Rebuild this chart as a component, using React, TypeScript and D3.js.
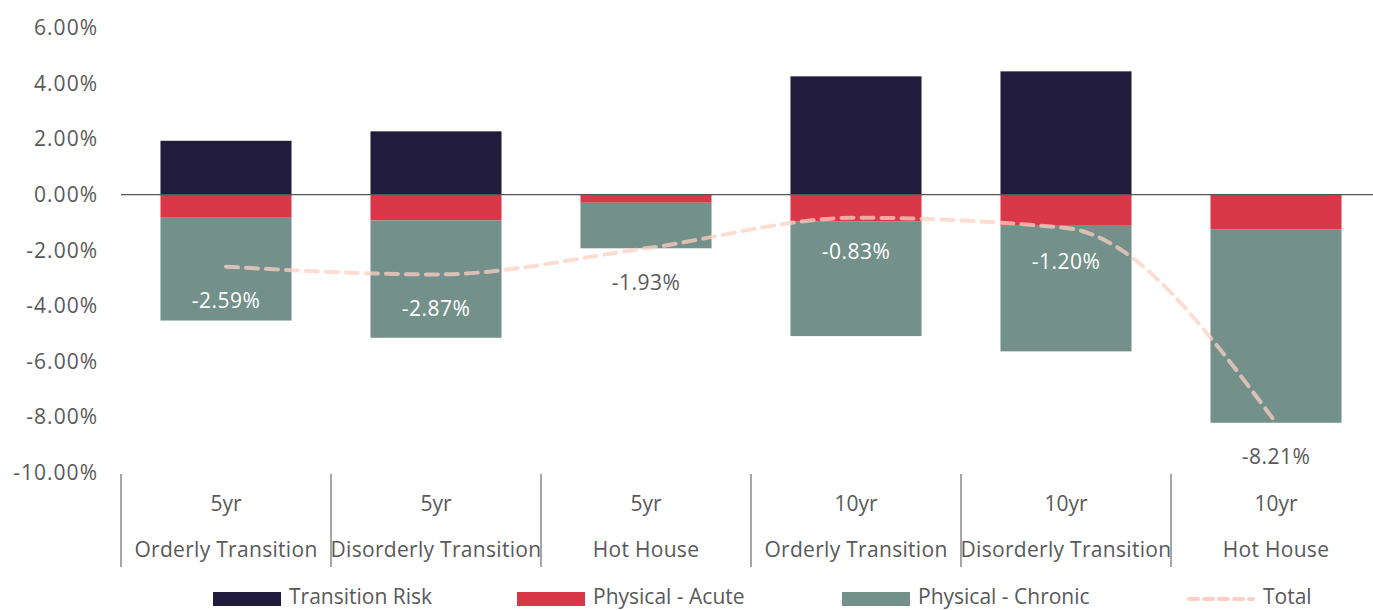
import React from "react";
import * as d3 from "d3";

const horizons = ["5yr", "5yr", "5yr", "10yr", "10yr", "10yr"];
const scenarios = ["Orderly Transition", "Disorderly Transition", "Hot House", "Orderly Transition", "Disorderly Transition", "Hot House"];
const transitionRisk = [1.94, 2.28, 0, 4.26, 4.44, 0];
const physicalAcute = [-0.83, -0.93, -0.29, -0.97, -1.12, -1.24];
const physicalChronic = [-3.70, -4.22, -1.64, -4.12, -4.52, -6.97];
const totals = [-2.59, -2.87, -1.93, -0.83, -1.20, -8.21];
const yTicks = [6, 4, 2, 0, -2, -4, -6, -8, -10];

const seriesNames = ["Transition Risk", "Physical - Acute", "Physical - Chronic", "Total"];
const colors = ["#221c3c", "#d83847", "#74908a", "#fcd0c2"];

const W = 1373, H = 610;
const FONT = "'Open Sans', sans-serif";
const TXT = "#595959";
const FS = 21;

export default function App() {
  const cats = scenarios.map((_, i) => String(i));
  const x = d3.scaleBand<string>().domain(cats).range([121, 1381]).paddingInner(0.376).paddingOuter(0.188);
  const step = x.step();
  const y = d3.scaleLinear().domain([-10, 6]).range([472.5, 28]);
  const cx = (i: number) => (x(String(i)) as number) + x.bandwidth() / 2;

  const line = d3.line<number>().x((_, i) => cx(i)).y(d => y(d)).curve(d3.curveMonotoneX);

  const bars: JSX.Element[] = [];
  cats.forEach((c, i) => {
    const bx = x(c) as number;
    const bw = x.bandwidth();
    const t = transitionRisk[i];
    if (t > 0) bars.push(<rect key={"t" + i} x={bx} y={y(t)} width={bw} height={y(0) - y(t)} fill={colors[0]} />);
    const a = physicalAcute[i];
    bars.push(<rect key={"a" + i} x={bx} y={y(0)} width={bw} height={y(a) - y(0)} fill={colors[1]} />);
    const ch = physicalChronic[i];
    bars.push(<rect key={"c" + i} x={bx} y={y(a)} width={bw} height={y(a + ch) - y(a)} fill={colors[2]} />);
  });

  const labels = totals.map((v, i) => {
    const ly = y(v) + 34;
    const bottom = y(physicalAcute[i] + physicalChronic[i]);
    const inside = ly + 8 < bottom;
    return (
      <text key={"l" + i} x={cx(i)} y={ly} dy="0.35em" textAnchor="middle" fontSize={FS} fill={inside ? "#ffffff" : TXT} letterSpacing={0.5}>
        {v.toFixed(2) + "%"}
      </text>
    );
  });

  const boundaries = d3.range(0, cats.length).map(i => 121 + i * step);

  const legendX = [213, 517, 842, 1187];

  return (
    <svg width={W} height={H} style={{ position: "absolute", left: 0, top: 0, background: "#fff" }} fontFamily={FONT}>
      {yTicks.map(t => (
        <text key={"y" + t} x={98} y={y(t)} dy="0.35em" textAnchor="end" fontSize={FS} fill={TXT} letterSpacing={1}>
          {t.toFixed(2) + "%"}
        </text>
      ))}
      {bars}
      <line x1={121} x2={1381} y1={y(0)} y2={y(0)} stroke="#555" strokeWidth={1.3} />
      <path d={line(totals) || ""} fill="none" stroke={colors[3]} strokeWidth={4} strokeDasharray="12,8" strokeOpacity={0.75} strokeLinecap="round" />
      {labels}
      {boundaries.map((b, i) => (
        <line key={"b" + i} x1={b} x2={b} y1={474} y2={567} stroke="#777" strokeWidth={1.3} />
      ))}
      {cats.map((c, i) => (
        <g key={"x" + i}>
          <text x={cx(i)} y={504} dy="0.35em" textAnchor="middle" fontSize={FS} fill={TXT}>{horizons[i]}</text>
          <text x={cx(i)} y={550} dy="0.35em" textAnchor="middle" fontSize={FS} fill={TXT} letterSpacing={0.3}>{scenarios[i]}</text>
        </g>
      ))}
      {seriesNames.map((n, i) => (
        <g key={"lg" + i}>
          {i < 3 ? (
            <rect x={legendX[i]} y={592} width={68} height={14} fill={colors[i]} />
          ) : (
            <line x1={legendX[i] + 2} x2={legendX[i] + 66} y1={599} y2={599} stroke={colors[3]} strokeWidth={4} strokeDasharray="9,6" strokeLinecap="round" />
          )}
          <text x={legendX[i] + 76} y={597} dy="0.35em" fontSize={FS} fill={TXT}>{n}</text>
        </g>
      ))}
    </svg>
  );
}
